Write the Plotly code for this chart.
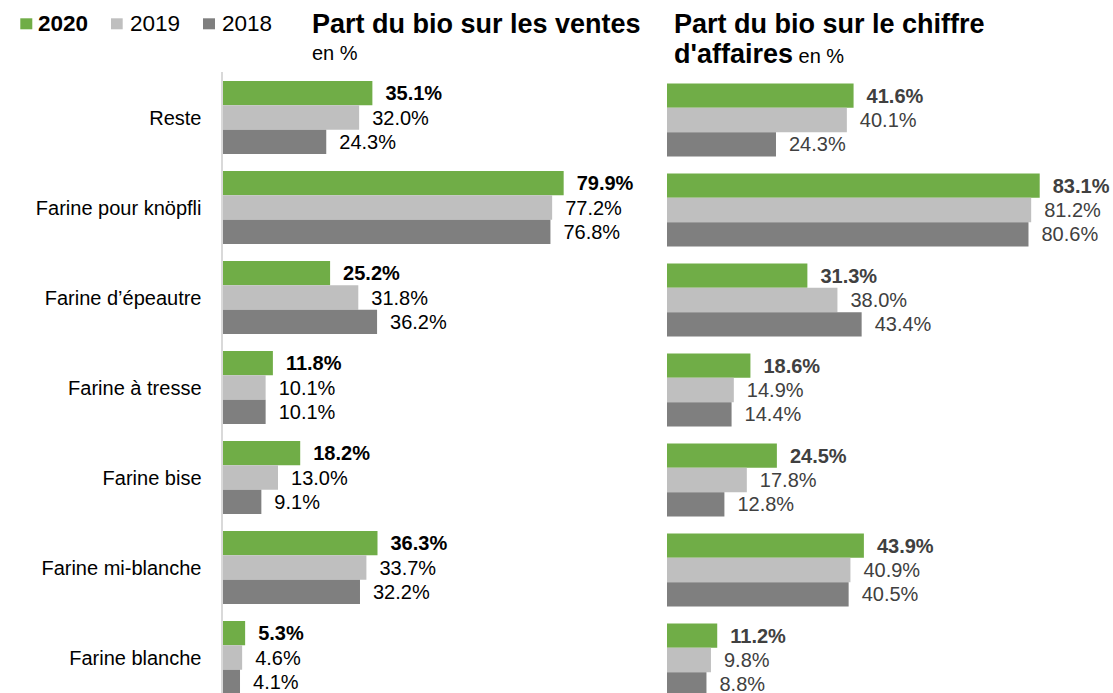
import plotly.graph_objects as go

categories = ["Reste", "Farine pour knöpfli", "Farine d’épeautre", "Farine à tresse",
              "Farine bise", "Farine mi-blanche", "Farine blanche"]
years = ["2020", "2019", "2018"]
colors = ["#70AD47", "#BFBFBF", "#7F7F7F"]

ventes_2020 = [35.1, 79.9, 25.2, 11.8, 18.2, 36.3, 5.3]
ventes_2019 = [32.0, 77.2, 31.8, 10.1, 13.0, 33.7, 4.6]
ventes_2018 = [24.3, 76.8, 36.2, 10.1, 9.1, 32.2, 4.1]

ca_2020 = [41.6, 83.1, 31.3, 18.6, 24.5, 43.9, 11.2]
ca_2019 = [40.1, 81.2, 38.0, 14.9, 17.8, 40.9, 9.8]
ca_2018 = [24.3, 80.6, 43.4, 14.4, 12.8, 40.5, 8.8]

W, H = 1113, 693
TOP = 72
FONT = "Liberation Sans, Arial, sans-serif"

def px_x(p):
    return p / W

def px_y(p):
    return (H - p) / (H - TOP)

fig = go.Figure()

ventes = [ventes_2020, ventes_2019, ventes_2018]
ca = [ca_2020, ca_2019, ca_2018]
SP = "\u2002"
for i, (yr, col) in enumerate(zip(years, colors)):
    tmpl = SP + ("<b>%{x:.1f}%</b>" if i == 0 else "%{x:.1f}%")
    fig.add_trace(go.Bar(
        y=categories, x=ventes[i], orientation="h", name=yr,
        marker=dict(color=col, line=dict(width=0)),
        texttemplate=tmpl, textposition="outside", cliponaxis=False,
        constraintext="none",
        outsidetextfont=dict(family=FONT, size=20, color="#000000"),
        xaxis="x", yaxis="y", showlegend=False, hoverinfo="skip"))
    fig.add_trace(go.Bar(
        y=categories, x=ca[i], orientation="h", name=yr,
        marker=dict(color=col, line=dict(width=0)),
        texttemplate=tmpl, textposition="outside", cliponaxis=False,
        constraintext="none",
        outsidetextfont=dict(family=FONT, size=20, color="#404040"),
        xaxis="x2", yaxis="y2", showlegend=False, hoverinfo="skip"))

fig.update_layout(
    width=W, height=H,
    margin=dict(l=0, r=0, t=TOP, b=0),
    paper_bgcolor="white", plot_bgcolor="white",
    barmode="group", bargap=0.189, bargroupgap=0,
    font=dict(family=FONT, size=20, color="#000000"),
    xaxis=dict(domain=[px_x(222.5), px_x(222.5 + 90 * 4.27)], range=[0, 90],
               showticklabels=False, showgrid=False, zeroline=False, showline=False),
    xaxis2=dict(domain=[px_x(667), px_x(667 + 95 * 4.485)], range=[0, 95],
                showticklabels=False, showgrid=False, zeroline=False, showline=False),
    yaxis=dict(type="category", categoryorder="array", categoryarray=categories,
               range=[6.394, -0.5056], showgrid=False, zeroline=False,
               showline=True, linecolor="#D9D9D9", linewidth=2,
               ticks="", ticklabelstandoff=15,
               tickfont=dict(family=FONT, size=20, color="#000000"),
               anchor="x"),
    yaxis2=dict(type="category", categoryorder="array", categoryarray=categories,
                range=[6.367, -0.533], showgrid=False, zeroline=False,
                showline=False, showticklabels=False, ticks="", anchor="x2"),
)

annotations = []
# Titles
annotations.append(dict(x=px_x(309.5), y=px_y(24.0), xref="paper", yref="paper",
                        xanchor="left", yanchor="middle", showarrow=False,
                        text="<b>Part du bio sur les ventes</b>",
                        font=dict(family=FONT, size=27, color="#000000")))
annotations.append(dict(x=px_x(309.5), y=px_y(53), xref="paper", yref="paper",
                        xanchor="left", yanchor="middle", showarrow=False,
                        text="en %", font=dict(family=FONT, size=20, color="#000000")))
annotations.append(dict(x=px_x(671.5), y=px_y(24.0), xref="paper", yref="paper",
                        xanchor="left", yanchor="middle", showarrow=False,
                        text="<b>Part du bio sur le chiffre</b>",
                        font=dict(family=FONT, size=27, color="#000000")))
annotations.append(dict(x=px_x(671.5), y=px_y(54.0), xref="paper", yref="paper",
                        xanchor="left", yanchor="middle", showarrow=False,
                        text="<b>d'affaires</b><span style='font-size:20px'> en %</span>",
                        font=dict(family=FONT, size=27, color="#000000")))

# Legend (swatches + labels)
legend_sw = [(20.3, 32.3), (111, 122.7), (203, 215)]
legend_tx = [36, 127.5, 219.5]
shapes = []
for i, yr in enumerate(years):
    x0, x1 = legend_sw[i]
    shapes.append(dict(type="rect", xref="paper", yref="paper",
                       x0=px_x(x0), x1=px_x(x1), y0=px_y(29.3), y1=px_y(18.3),
                       fillcolor=colors[i], line=dict(width=0)))
    annotations.append(dict(x=px_x(legend_tx[i]), y=px_y(23.9), xref="paper", yref="paper",
                            xanchor="left", yanchor="middle", showarrow=False,
                            text=(f"<b>{yr}</b>" if i == 0 else yr),
                            font=dict(family=FONT, size=22.5, color="#000000")))

fig.update_layout(annotations=annotations, shapes=shapes)

fig.write_html("out.html",
               config={"displayModeBar": False},
               post_script="document.body.style.margin='0';document.body.style.overflow='hidden';")
